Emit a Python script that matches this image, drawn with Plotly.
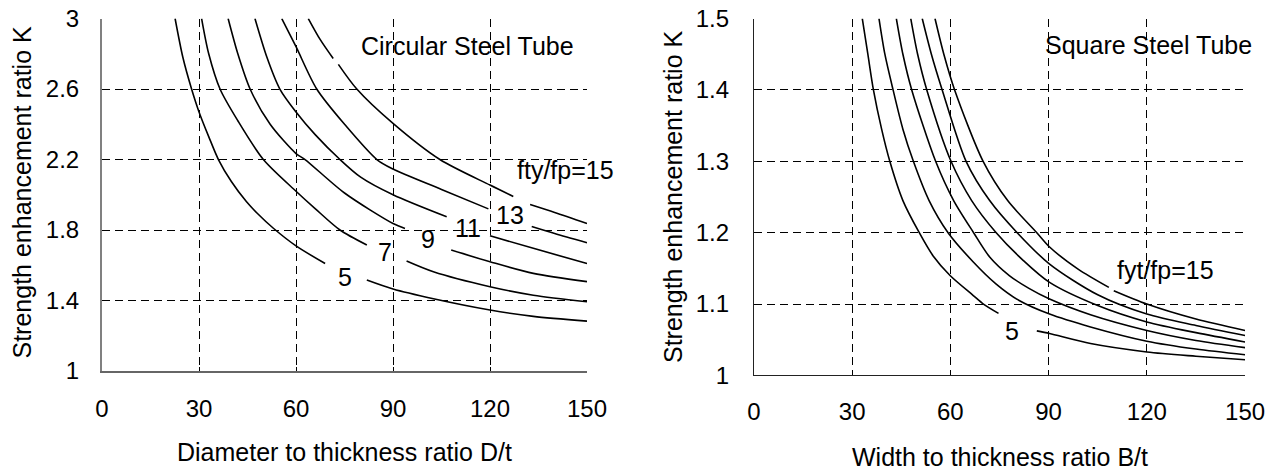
import plotly.graph_objects as go
from plotly.subplots import make_subplots

# ---------------- data: circular steel tube (left) ----------------
circ_x_ticks = [0, 30, 60, 90, 120, 150]
circ_y_ticks = [1, 1.4, 1.8, 2.2, 2.6, 3]

circ5_x = [22.6, 25.0, 27.7, 30, 33, 36, 40, 44.7, 48, 53, 60, 69, None, 81.9, 90, 102.5, 120, 133.4, 150]
circ5_y = [3.0, 2.78, 2.6, 2.47, 2.33, 2.2, 2.075, 1.96, 1.895, 1.81, 1.71, 1.61, None, 1.516, 1.465, 1.41, 1.346, 1.31, 1.283]

circ7_x = [30.8, 33, 36.5, 42, 49.9, 60, 66, 73.6, 81.9, None, 94.2, 102.5, 120, 133.4, 150]
circ7_y = [3.0, 2.8, 2.6, 2.42, 2.2, 2.02, 1.92, 1.8, 1.715, None, 1.624, 1.563, 1.478, 1.43, 1.393]

circ9_x = [39, 42, 45.8, 52, 60, 62.8, 75, 90, 93.7, None, 108, 120, 133.4, 150]
circ9_y = [3.0, 2.8, 2.6, 2.4, 2.234, 2.2, 2.01, 1.837, 1.809, None, 1.686, 1.62, 1.554, 1.507]

circ11_x = [47.3, 51, 55, 60, 66, 73.6, 80, 90, 106.6, None, 120, 133.4, 150]
circ11_y = [3.0, 2.78, 2.6, 2.47, 2.34, 2.2, 2.1, 2.0, 1.875, None, 1.767, 1.696, 1.61]

circ13_x = [55.6, 60, 66.4, 75, 85, 90, 105, 119.5, None, 132.9, 140, 150]
circ13_y = [3.0, 2.84, 2.6, 2.4, 2.2, 2.146, 2.03, 1.92, None, 1.82, 1.78, 1.728]

circ15_x = [63.8, 67.5, 71.5, None, 73.1, 78.8, 90, 104.5, 120, 127.2, None, 132.4, 140, 150]
circ15_y = [3.0, 2.88, 2.773, None, 2.74, 2.6, 2.405, 2.2, 2.055, 1.99, None, 1.945, 1.9, 1.837]

circ_label_text = ["5", "7", "9", "11", "13", "fty/fp=15"]
circ_label_x = [75.2, 87.5, 100.9, 113.3, 126.2, 143.2]
circ_label_y = [1.536, 1.674, 1.75, 1.811, 1.886, 2.142]

# ---------------- data: square steel tube (right) ----------------
sq_x_ticks = [0, 30, 60, 90, 120, 150]
sq_y_ticks = [1, 1.1, 1.2, 1.3, 1.4, 1.5]

sq5_x = [33.1, 34.8, 36.5, 39, 41.5, 45.5, 50.5, 54.8, 59.9, 67, 70.1, 74.7, None, 86.4, 90.3, 102.8, 120, 135, 150]
sq5_y = [1.5, 1.45, 1.4, 1.345, 1.3, 1.245, 1.2, 1.167, 1.14, 1.112, 1.1, 1.087, None, 1.0625, 1.0588, 1.0447, 1.033, 1.027, 1.022]

sq7_x = [38.2, 40, 42.5, 45.5, 48.7, 53.5, 59.3, 67, 74, 81, 90.3, 102.8, 120, 135, 150]
sq7_y = [1.5, 1.45, 1.4, 1.345, 1.3, 1.245, 1.2, 1.159, 1.128, 1.105, 1.086, 1.068, 1.048, 1.037, 1.029]

sq9_x = [43.5, 45.5, 48.2, 55.5, 61, 67.1, 72, 78, 84, 90.3, 102.8, 120, 135, 150]
sq9_y = [1.5, 1.45, 1.4, 1.3, 1.245, 1.2, 1.166, 1.14, 1.122, 1.107, 1.085, 1.063, 1.049, 1.039]

sq11_x = [47.9, 50, 52.8, 60.2, 66.5, 74, 82.3, 90.3, 105, 120, 135, 150]
sq11_y = [1.5, 1.45, 1.4, 1.3, 1.245, 1.2, 1.161, 1.1304, 1.098, 1.075, 1.06, 1.047]

sq13_x = [51.4, 54.2, 57.5, 64.8, 72, 80.4, 90.3, 105, 120, 135, 150]
sq13_y = [1.5, 1.45, 1.4, 1.3, 1.245, 1.2, 1.156, 1.113, 1.086, 1.07, 1.056]

sq15_x = [55.3, 58, 61.3, 70, 77.5, 86.4, 90.3, 99, 108.4, None, 109.9, 120, 135, 150]
sq15_y = [1.5, 1.45, 1.4, 1.3, 1.245, 1.2, 1.18, 1.149, 1.1234, None, 1.1187, 1.1, 1.079, 1.063]

sq_label_text = ["5", "fyt/fp=15"]
sq_label_x = [78.7, 125.7]
sq_label_y = [1.0617, 1.148]

# ---------------- figure ----------------
FONT = "Arial, Liberation Sans, sans-serif"
fig = make_subplots(rows=1, cols=2)

circ_series = [(circ5_x, circ5_y), (circ7_x, circ7_y), (circ9_x, circ9_y),
               (circ11_x, circ11_y), (circ13_x, circ13_y), (circ15_x, circ15_y)]
sq_series = [(sq5_x, sq5_y), (sq7_x, sq7_y), (sq9_x, sq9_y),
             (sq11_x, sq11_y), (sq13_x, sq13_y), (sq15_x, sq15_y)]

for xs, ys in circ_series:
    fig.add_trace(go.Scatter(x=xs, y=ys, mode="lines", connectgaps=False,
                             line=dict(color="black", width=1.6, shape="spline", smoothing=0.8),
                             showlegend=False, hoverinfo="skip"), row=1, col=1)
for xs, ys in sq_series:
    fig.add_trace(go.Scatter(x=xs, y=ys, mode="lines", connectgaps=False,
                             line=dict(color="black", width=1.6, shape="spline", smoothing=0.8),
                             showlegend=False, hoverinfo="skip"), row=1, col=2)

grid_common = dict(showgrid=True, gridcolor="black", gridwidth=1, griddash="8px,5px",
                   zeroline=False, ticks="inside", ticklen=4, tickcolor="black",
                   automargin=False,
                   tickfont=dict(family=FONT, size=24, color="black"))

fig.update_xaxes(range=[0, 150], tickvals=circ_x_ticks, domain=[0.0797, 0.4586],
                 showline=True, linecolor="#666666", linewidth=1.5,
                 ticklabelstandoff=15, **grid_common, row=1, col=1)
fig.update_yaxes(range=[1, 3], tickvals=circ_y_ticks, domain=[0.2106, 0.9606],
                 showline=True, linecolor="#808080", linewidth=2,
                 ticklabelstandoff=16, **grid_common, row=1, col=1)
fig.update_xaxes(range=[0, 150], tickvals=sq_x_ticks, domain=[0.589, 0.9727],
                 showline=True, linecolor="#222222", linewidth=1,
                 ticklabelstandoff=15, **grid_common, row=1, col=2)
fig.update_yaxes(range=[1, 1.5], tickvals=sq_y_ticks, domain=[0.2011, 0.9606],
                 showline=True, linecolor="#222222", linewidth=1,
                 ticklabelstandoff=19, **grid_common, row=1, col=2)

annots = []
for t, x, y in zip(circ_label_text, circ_label_x, circ_label_y):
    annots.append(dict(xref="x", yref="y", x=x, y=y, text=t, showarrow=False,
                       xanchor="center", yanchor="middle",
                       font=dict(family=FONT, size=25, color="black")))
for t, x, y in zip(sq_label_text, sq_label_x, sq_label_y):
    annots.append(dict(xref="x2", yref="y2", x=x, y=y, text=t, showarrow=False,
                       xanchor="center", yanchor="middle",
                       font=dict(family=FONT, size=25, color="black")))
# panel titles
annots.append(dict(xref="x", yref="y", x=113.0, y=2.843, text="Circular Steel Tube",
                   showarrow=False, xanchor="center", yanchor="middle",
                   font=dict(family=FONT, size=25, color="black")))
annots.append(dict(xref="x2", yref="y2", x=120.5, y=1.4636, text="Square Steel Tube",
                   showarrow=False, xanchor="center", yanchor="middle",
                   font=dict(family=FONT, size=25, color="black")))
# axis titles
annots.append(dict(xref="paper", yref="paper", x=0.2695, y=1 - 452 / 470,
                   text="Diameter to thickness ratio D/t", showarrow=False,
                   xanchor="center", yanchor="middle",
                   font=dict(family=FONT, size=25, color="black")))
annots.append(dict(xref="paper", yref="paper", x=0.78125, y=1 - 457 / 470,
                   text="Width to thickness ratio B/t", showarrow=False,
                   xanchor="center", yanchor="middle",
                   font=dict(family=FONT, size=25, color="black")))
annots.append(dict(xref="paper", yref="paper", x=22 / 1280, y=1 - 192.5 / 470,
                   text="Strength enhancement ratio K", showarrow=False, textangle=-90,
                   xanchor="center", yanchor="middle",
                   font=dict(family=FONT, size=25, color="black")))
annots.append(dict(xref="paper", yref="paper", x=673 / 1280, y=1 - 197 / 470,
                   text="Strength enhancement ratio K", showarrow=False, textangle=-90,
                   xanchor="center", yanchor="middle",
                   font=dict(family=FONT, size=25, color="black")))

fig.update_layout(width=1280, height=470, margin=dict(l=0, r=0, t=0, b=0),
                  paper_bgcolor="white", plot_bgcolor="white",
                  annotations=annots, showlegend=False)

fig.write_html("out.html")
